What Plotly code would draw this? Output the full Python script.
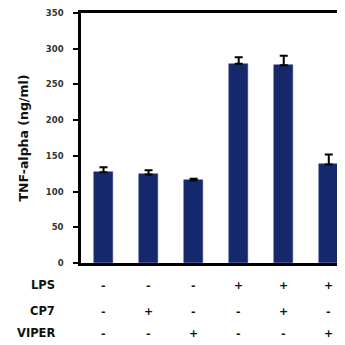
import plotly.graph_objects as go

categories = ["G1", "G2", "G3", "G4", "G5", "G6"]
values = [127, 124, 116, 279, 277, 138]
errors = [7, 6, 2, 9, 13, 14]
lps = ["-", "-", "-", "+", "+", "+"]
cp7 = ["-", "+", "-", "-", "+", "-"]
viper = ["-", "-", "+", "-", "-", "+"]
row_labels = ["LPS", "CP7", "VIPER"]
y_ticks = [0, 50, 100, 150, 200, 250, 300, 350]

xs = list(range(len(categories)))

fig = go.Figure()
fig.add_trace(go.Bar(
    x=xs, y=values, width=0.42,
    marker=dict(color="#14286b", line=dict(color="#2a3f8a", width=0.5)),
    error_y=dict(type="data", array=errors, arrayminus=[0]*len(errors),
                 symmetric=False, color="black", thickness=2, width=4),
))

ann = []
rows = [lps, cp7, viper]
row_y = [-0.088, -0.192, -0.28]
for label, vals, yy in zip(row_labels, rows, row_y):
    ann.append(dict(x=0, xref="paper", xanchor="right", xshift=-24, y=yy, yref="paper",
                    yanchor="middle", text=label, showarrow=False,
                    font=dict(family="DejaVu Sans", size=11.5, color="#111111", weight="bold")))
    for xi, v in zip(xs, vals):
        ann.append(dict(x=xi, xref="x", y=yy, yref="paper", yanchor="middle",
                        text=v, showarrow=False,
                        font=dict(family="DejaVu Sans", size=11, color="#111111", weight="bold")))

fig.update_layout(
    width=337, height=337,
    margin=dict(l=73, r=0, t=5, b=82),
    paper_bgcolor="white", plot_bgcolor="white",
    showlegend=False,
    annotations=ann,
    bargap=0,
)
fig.update_xaxes(range=[-0.5, 5.36], showticklabels=False, ticks="",
                 showline=True, linecolor="black", linewidth=2.5, mirror=True,
                 showgrid=False, zeroline=False)
fig.update_yaxes(range=[0, 350], tickvals=y_ticks, ticks="outside", ticklen=5,
                 tickwidth=1.5, tickcolor="black",
                 showline=True, linecolor="black", linewidth=2.5, mirror=False,
                 showgrid=False, zeroline=False, ticklabeloverflow="allow",
                 tickfont=dict(family="DejaVu Sans", size=8.5, color="#333333", weight="bold"),
                 ticklabelstandoff=8,
                 title=dict(text="TNF-alpha (ng/ml)", standoff=15,
                            font=dict(family="DejaVu Sans", size=12.5, color="#111111", weight="bold")))

fig.write_html("out.html")
